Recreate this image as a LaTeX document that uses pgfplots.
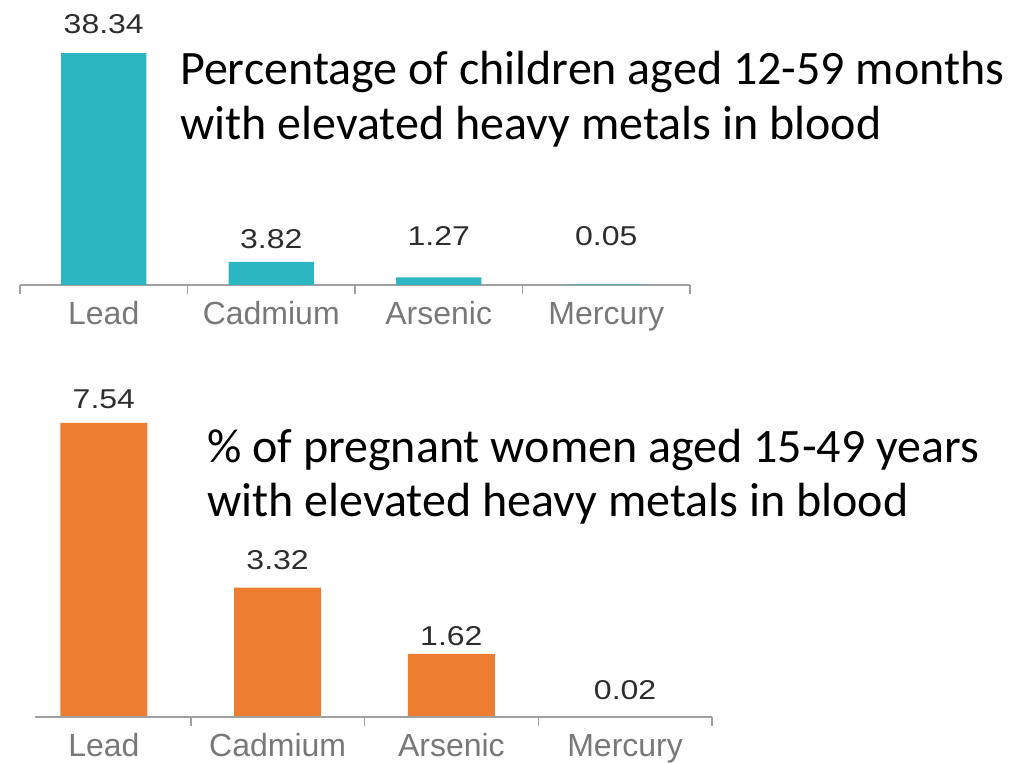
\documentclass[border=0pt]{standalone}
\usepackage{pgfplots}
\pgfplotsset{compat=1.18}
\usepackage{fontspec}
\setmainfont{Liberation Sans}
\newfontfamily\carlito{Carlito}
\definecolor{tealbar}{RGB}{44,182,194}
\definecolor{orangebar}{RGB}{237,125,49}
\definecolor{axisgray}{RGB}{160,160,160}
\definecolor{catgray}{RGB}{120,120,120}
\definecolor{valgray}{RGB}{45,45,45}
\pgfplotsset{
  metalaxis/.style={
    scale only axis,
    anchor=south west,
    xmin=-0.5, xmax=3.5, ymin=0,
    axis x line*=bottom,
    axis y line=none,
    clip=false,
    xtick={0,1,2,3},
    xticklabels={Lead,Cadmium,Arsenic,Mercury},
    major tick length=0pt,
    minor tick length=9pt,
    tick align=outside,
    every tick/.style={axisgray, line width=1.5pt},
    minor tick style={axisgray, line width=1.5pt},
    xticklabel style={anchor=base, yshift=-40pt, text=catgray, font=\fontsize{32}{36}\selectfont, inner sep=0pt},
    x axis line style={axisgray, line width=1.5pt},
  },
  vallabels/.style={
    draw=none, mark=none,
    point meta=explicit symbolic,
    nodes near coords={\scalebox{1}[0.85]{\pgfplotspointmeta}},
    every node near coord/.style={anchor=base, inner sep=0pt, text=valgray, font=\fontsize{32}{34}\selectfont},
  },
}
\begin{document}
\begin{tikzpicture}[x=1pt,y=1pt]
\useasboundingbox (0,0) rectangle (1013,763);
% ---------- top chart ----------
\begin{axis}[metalaxis,
  at={(20pt,478pt)}, width=670pt, height=242pt, ymax=40,
  minor xtick={-0.5,0.5,1.5,2.5,3.5}]
\addplot[ybar, bar width=85pt, fill=tealbar, draw=none]
  coordinates {(0,38.34) (1,3.82) (2,1.27) (3,0.05)};
\addplot[vallabels]
  coordinates {(0,41.65)[38.34] (1,6.1)[3.82] (2,6.6)[1.27] (3,6.6)[0.05]};
\end{axis}
% ---------- bottom chart ----------
\begin{axis}[metalaxis,
  at={(17pt,46pt)}, width=695pt, height=312pt, ymax=8,
  minor xtick={0.5,1.5,2.5,3.5},
  x axis line style={draw=none}]
\addplot[ybar, bar width=87pt, fill=orangebar, draw=none]
  coordinates {(0,7.54) (1,3.32) (2,1.62) (3,0.02)};
\addplot[vallabels]
  coordinates {(0,7.92)[7.54] (1,3.77)[3.32] (2,1.846)[1.62] (3,0.436)[0.02]};
\draw[axisgray, line width=1.5pt] (axis cs:-0.396,0) -- (axis cs:3.5,0);
\end{axis}
% ---------- annotations ----------
\node[anchor=base west, inner sep=0pt] at (180,678) {\carlito\fontsize{48}{54}\selectfont Percentage of children aged 12-59 months};
\node[anchor=base west, inner sep=0pt] at (180,623) {\carlito\fontsize{48}{54}\selectfont with elevated heavy metals in blood};
\node[anchor=base west, inner sep=0pt] at (207,300) {\carlito\fontsize{48}{54}\selectfont \% of pregnant women aged 15-49 years};
\node[anchor=base west, inner sep=0pt] at (207,246) {\carlito\fontsize{48}{54}\selectfont with elevated heavy metals in blood};
\end{tikzpicture}
\end{document}
